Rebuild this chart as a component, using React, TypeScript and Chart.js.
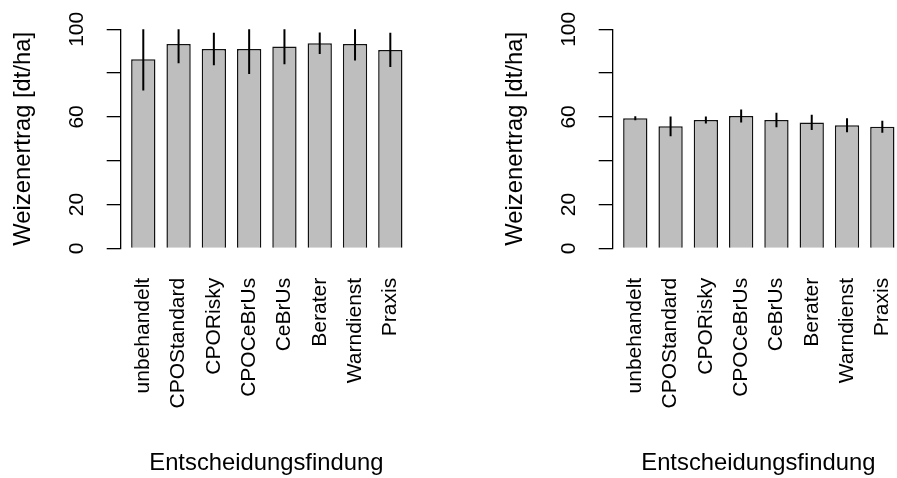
import React, { useEffect, useRef } from "react";
import { Chart, registerables } from "chart.js";

Chart.register(...registerables);

const categories = [
  "unbehandelt",
  "CPOStandard",
  "CPORisky",
  "CPOCeBrUs",
  "CeBrUs",
  "Berater",
  "Warndienst",
  "Praxis",
];

const leftMeans = [86.3, 93.3, 91.0, 91.0, 92.1, 93.6, 93.3, 90.6];
const leftErrors = [14.3, 8.8, 7.4, 11.4, 8.1, 4.9, 7.6, 7.8];

const rightMeans = [59.4, 55.7, 58.6, 60.4, 58.6, 57.5, 56.2, 55.5];
const rightErrors = [0.9, 4.5, 1.6, 3.0, 3.3, 3.5, 3.2, 2.7];

const yTickLabels = ["0", "20", "", "60", "", "100"];

const yTitle = "Weizenertrag [dt/ha]";
const xTitle = "Entscheidungsfindung";

const FONT = "'Liberation Sans', Arial, Helvetica, sans-serif";
const CANVAS_W = 412;
const CANVAS_H = 478;
const AXIS_X = 120.7;
const AREA_TOP = 29.3;
const AREA_BOTTOM = 248.3;

function Panel({ means, errors, left }: { means: number[]; errors: number[]; left: number }) {
  const ref = useRef<HTMLCanvasElement | null>(null);

  useEffect(() => {
    if (!ref.current) return;
    const errorBars = {
      id: "errorBars",
      afterDatasetsDraw(chart: any) {
        const { ctx, chartArea, scales } = chart;
        ctx.save();
        ctx.beginPath();
        ctx.rect(chartArea.left, chartArea.top, chartArea.right - chartArea.left, chartArea.bottom - chartArea.top);
        ctx.clip();
        ctx.strokeStyle = "#000";
        ctx.lineWidth = 2;
        means.forEach((m, i) => {
          const x = scales.x.getPixelForValue(i + 1);
          const y1 = scales.y.getPixelForValue(m + errors[i]);
          const y2 = scales.y.getPixelForValue(m - errors[i]);
          ctx.beginPath();
          ctx.moveTo(x, y1);
          ctx.lineTo(x, y2);
          ctx.stroke();
        });
        ctx.restore();
      },
    };

    const chart = new Chart(ref.current, {
      type: "bar",
      data: {
        datasets: [
          {
            data: means.map((v, i) => ({ x: i + 1, y: v })),
            backgroundColor: "#BEBEBE",
            borderColor: "#111",
            borderWidth: 1.5,
            categoryPercentage: 1,
            barPercentage: 0.689,
          },
        ],
      },
      options: {
        animation: false,
        responsive: false,
        devicePixelRatio: 1,
        layout: { padding: { top: AREA_TOP, left: 0, right: 0, bottom: 0 } },
        plugins: { legend: { display: false }, tooltip: { enabled: false } },
        scales: {
          x: {
            type: "linear",
            position: "bottom",
            offset: false,
            min: 0.36,
            max: 0.36 + (CANVAS_W - AXIS_X) / 35.29,
            afterBuildTicks: (s: any) => {
              s.ticks = categories.map((_, i) => ({ value: i + 1 }));
            },
            afterFit: (s: any) => {
              s.height = CANVAS_H - AREA_BOTTOM;
              s.paddingLeft = 0;
              s.paddingRight = 0;
            },
            grid: { display: false, offset: false },
            border: { display: false },
            ticks: {
              autoSkip: false,
              minRotation: 90,
              maxRotation: 90,
              padding: 21.5,
              color: "#000",
              font: { family: FONT, size: 21 },
              callback: (v: any) => categories[Math.round(Number(v)) - 1] ?? "",
            },
            title: {
              display: true,
              text: xTitle,
              color: "#000",
              font: { family: FONT, size: 23.8, lineHeight: 1.2 },
              padding: { top: 0, bottom: 0.2 },
            },
          },
          y: {
            type: "linear",
            position: "left",
            min: 0,
            max: 100,
            afterBuildTicks: (s: any) => {
              s.ticks = yTickLabels.map((_, i) => ({ value: i * 20 }));
            },
            afterFit: (s: any) => {
              s.width = AXIS_X;
              s.paddingTop = 0;
              s.paddingBottom = 0;
            },
            grid: {
              display: true,
              drawOnChartArea: false,
              drawTicks: true,
              tickLength: 14,
              color: "#000",
              lineWidth: 1.3,
            },
            border: { display: true, color: "#000", width: 1.3 },
            ticks: {
              minRotation: 90,
              maxRotation: 90,
              crossAlign: "center",
              padding: 11.7,
              color: "#000",
              font: { family: FONT, size: 21 },
              callback: (_v: any, i: number) => yTickLabels[i] ?? "",
            },
            title: {
              display: true,
              text: yTitle,
              color: "#000",
              font: { family: FONT, size: 23.8, lineHeight: 1.2 },
              padding: { top: 8.7, bottom: 0 },
            },
          },
        },
      },
      plugins: [errorBars],
    } as any);
    return () => chart.destroy();
  }, [means, errors]);

  return (
    <canvas
      ref={ref}
      width={CANVAS_W}
      height={CANVAS_H}
      style={{ position: "absolute", left, top: 0, width: CANVAS_W, height: CANVAS_H }}
    />
  );
}

export default function App() {
  return (
    <div
      style={{
        position: "absolute",
        left: 0,
        top: 0,
        width: 897,
        height: 478,
        overflow: "hidden",
        background: "#fff",
      }}
    >
      <Panel means={leftMeans} errors={leftErrors} left={0} />
      <Panel means={rightMeans} errors={rightErrors} left={492} />
    </div>
  );
}
